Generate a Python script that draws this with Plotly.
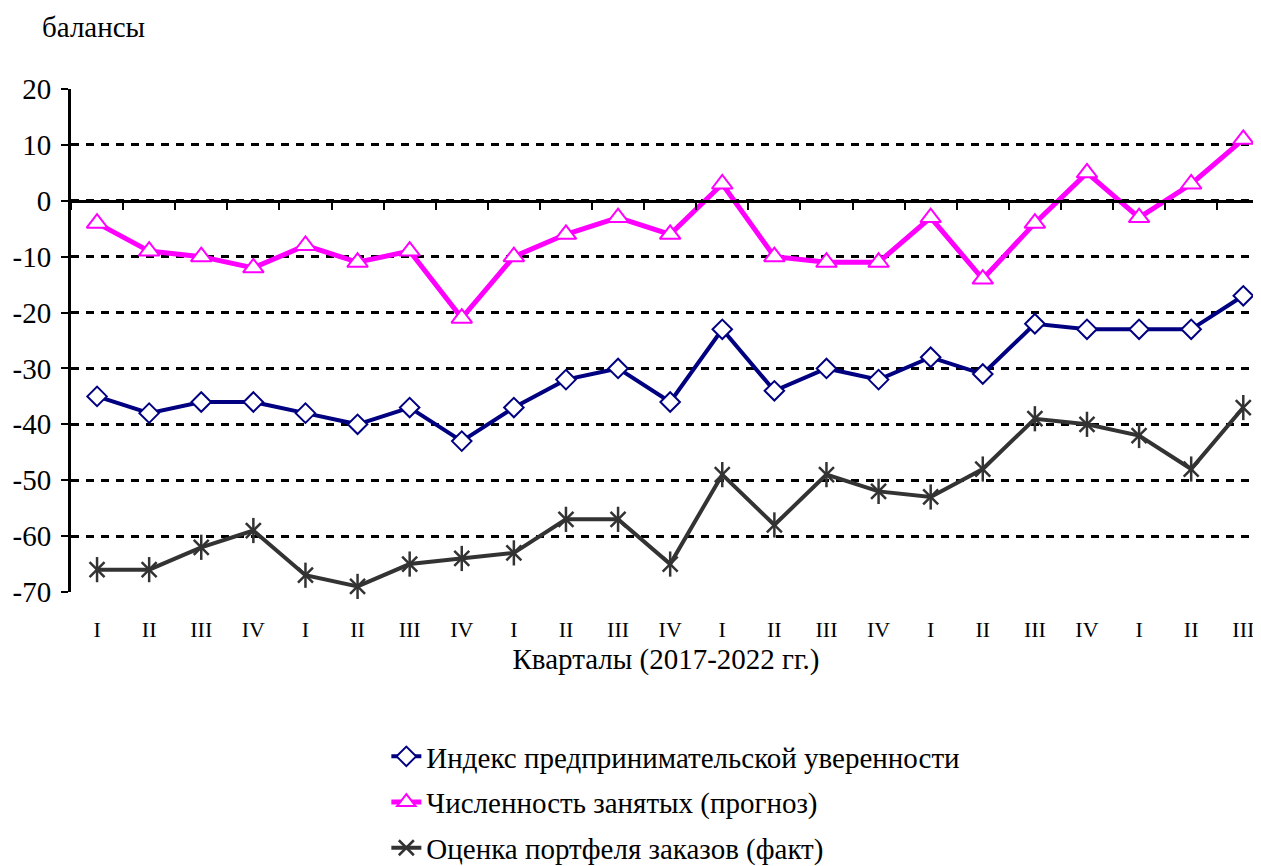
import plotly.graph_objects as go

quarters = ["I", "II", "III", "IV", "I", "II", "III", "IV", "I", "II", "III", "IV",
            "I", "II", "III", "IV", "I", "II", "III", "IV", "I", "II", "III"]
confidence = [-35, -38, -36, -36, -38, -40, -37, -43, -37, -32, -30, -36,
              -23, -34, -30, -32, -28, -31, -22, -23, -23, -23, -17]
employment = [-4, -9, -10, -12, -8, -11, -9, -21, -10, -6, -3, -6,
              3, -10, -11, -11, -3, -14, -4, 5, -3, 3, 11]
orders = [-66, -66, -62, -59, -67, -69, -65, -64, -63, -57, -57, -65,
          -49, -58, -49, -52, -53, -48, -39, -40, -42, -48, -37]
y_ticks = [-70, -60, -50, -40, -30, -20, -10, 0, 10, 20]
y_tick_labels = ["-70", "-60", "-50", "-40", "-30", "-20", "-10", "0", "10", "20"]

names = ["Индекс предпринимательской уверенности",
         "Численность занятых (прогноз)",
         "Оценка портфеля заказов (факт)"]

FONT = "Liberation Serif, Times New Roman, serif"
idx = list(range(len(quarters)))
xr = [-0.5, 22.34]

# page body has an 8px default margin; the figure is sized/offset to compensate
W, H = 1253, 858
L, T = 63, 81
B = H - 584
PH = 584 - T

fig = go.Figure()
fig.add_trace(go.Scatter(
    x=idx, y=confidence, name=names[0], mode="lines+markers", legendgroup="a",
    line=dict(color="#000080", width=4),
    marker=dict(symbol="diamond", size=15, color="white", line=dict(color="#000080", width=2)),
    cliponaxis=False))
fig.add_trace(go.Scatter(
    x=idx, y=employment, name=names[1], mode="lines+markers", legendgroup="b",
    line=dict(color="#FF00FF", width=5),
    marker=dict(symbol="triangle-up", size=18, color="white", line=dict(color="#FF00FF", width=2)),
    cliponaxis=False))
fig.add_trace(go.Scatter(
    x=idx, y=orders, name=names[2], mode="lines+markers", legendgroup="c",
    line=dict(color="#333333", width=4),
    marker=dict(symbol="x-thin-open", size=15, color="#333333", line=dict(color="#333333", width=2.5)),
    cliponaxis=False))
fig.add_trace(go.Scatter(
    x=idx, y=orders, mode="markers", showlegend=False, legendgroup="c",
    marker=dict(symbol="line-ns-open", size=18, color="#333333", line=dict(color="#333333", width=2.5)),
    cliponaxis=False, hoverinfo="skip"))
# carrier trace so the zero-line axis is drawn
fig.add_trace(go.Scatter(x=[None], y=[None], xaxis="x2", showlegend=False, hoverinfo="skip"))

fig.update_layout(
    width=W, height=H,
    margin=dict(l=L, r=0, t=T, b=B, autoexpand=False),
    paper_bgcolor="white", plot_bgcolor="white",
    font=dict(family=FONT, color="black"),
    showlegend=True,
    legend=dict(x=0.265, y=-(866 - 584) / PH, xanchor="left", yanchor="bottom",
                font=dict(family=FONT, size=29, color="black"),
                tracegroupgap=5, bgcolor="rgba(0,0,0,0)"),
    xaxis=dict(range=xr, tickmode="array", tickvals=idx, ticktext=quarters,
               showgrid=False, zeroline=False, showline=False, ticks="", automargin=False,
               tickfont=dict(family=FONT, size=22), ticklabelstandoff=22,
               title=dict(text="Кварталы (2017-2022 гг.)", font=dict(family=FONT, size=29), standoff=7)),
    xaxis2=dict(range=xr, overlaying="x", anchor="free", position=70 / 90, side="bottom",
                tickmode="array", tickvals=[i - 0.5 for i in range(24)], automargin=False,
                showticklabels=False, ticks="outside", ticklen=7, tickwidth=2, tickcolor="black",
                showline=True, linecolor="black", linewidth=3, showgrid=False, zeroline=False),
    yaxis=dict(range=[-70, 20], tickmode="array", tickvals=y_ticks, ticktext=y_tick_labels,
               showline=True, linecolor="black", linewidth=3, ticks="outside", ticklen=7,
               tickwidth=2, tickcolor="black", zeroline=False, automargin=False,
               showgrid=True, gridcolor="black", gridwidth=3, griddash="8px,7px",
               tickfont=dict(family=FONT, size=29), ticklabelstandoff=4),
    annotations=[dict(text="балансы", xref="paper", yref="paper",
                      x=-(L - 32) / 1190, y=1 + (T - 19) / PH, xanchor="left", yanchor="middle",
                      showarrow=False, font=dict(family=FONT, size=29, color="black"))],
)

fig.write_html("out.html")
